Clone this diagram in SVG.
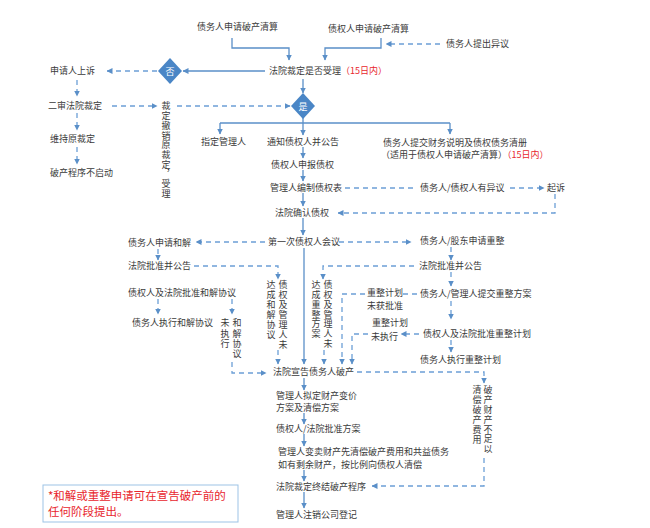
<svg xmlns="http://www.w3.org/2000/svg" width="650" height="528" viewBox="0 0 650 528">
<style>
text{font-family:"Noto Sans CJK SC","Liberation Sans",sans-serif;font-size:9px;fill:#3a3a3a}
.vt{writing-mode:vertical-rl;letter-spacing:1px}
.r{fill:#e8262d}
.s{fill:none;stroke:#5a8fc8;stroke-width:1.3}
.d{fill:none;stroke:#6c9fd6;stroke-width:1.3;stroke-dasharray:5 4}
.dm{fill:#4a86c6}
.dt{fill:#fff;text-anchor:middle;font-size:9px}
.note{fill:#e8262d;font-size:11.5px}
</style>
<defs>
<marker id="a" markerUnits="userSpaceOnUse" markerWidth="6" markerHeight="6" refX="5.5" refY="3" orient="auto"><path d="M0,0 L6,3 L0,6 z" fill="#5a8fc8"/></marker>
</defs>
<rect width="650" height="528" fill="#fff"/>

<g id="connectors">
<path class="s" d="M232,38 V48 H289 V60" marker-end="url(#a)"/>
<path class="s" d="M381,38 V48 H325 V60" marker-end="url(#a)"/>
<path class="d" d="M440,44 H386" marker-end="url(#a)"/>
<path class="s" d="M265,71 H183" marker-end="url(#a)"/>
<path class="d" d="M157,71 H107" marker-end="url(#a)"/>
<path class="d" d="M77,80 V96" marker-end="url(#a)"/>
<path class="d" d="M112,106 H157" marker-end="url(#a)"/>
<path class="d" d="M177,106 H290" marker-end="url(#a)"/>
<path class="d" d="M77,113 V130" marker-end="url(#a)"/>
<path class="d" d="M77,147 V164" marker-end="url(#a)"/>
<path class="s" d="M303,79 V93" marker-end="url(#a)"/>
<path class="s" d="M303,118 V135" marker-end="url(#a)"/>
<path class="s" d="M220,123 H450"/>
<path class="s" d="M220,123 V134" marker-end="url(#a)"/>
<path class="s" d="M450,123 V134" marker-end="url(#a)"/>
<path class="s" d="M303,147 V158" marker-end="url(#a)"/>
<path class="s" d="M303,170 V181" marker-end="url(#a)"/>
<path class="d" d="M345,188 H415"/>
<path class="d" d="M510,188 H544" marker-end="url(#a)"/>
<path class="d" d="M555,194 V213 H338" marker-end="url(#a)"/>
<path class="s" d="M303,193 V206" marker-end="url(#a)"/>
<path class="s" d="M303,218 V235" marker-end="url(#a)"/>
<path class="d" d="M265,242 H196" marker-end="url(#a)"/>
<path class="d" d="M339,242 H411" marker-end="url(#a)"/>
<path class="s" d="M304,248 V364" marker-end="url(#a)"/>
<path class="d" d="M158,249 V260" marker-end="url(#a)"/>
<path class="d" d="M194,266 H278 V279" marker-end="url(#a)"/>
<path class="d" d="M158,299 V314" marker-end="url(#a)"/>
<path class="d" d="M232,299 V314" marker-end="url(#a)"/>
<path class="d" d="M278,350 V364" marker-end="url(#a)"/>
<path class="d" d="M232,362 V373 H266" marker-end="url(#a)"/>
<path class="d" d="M451,247 V260" marker-end="url(#a)"/>
<path class="d" d="M414,266 H323 V279" marker-end="url(#a)"/>
<path class="d" d="M451,272 V286" marker-end="url(#a)"/>
<path class="d" d="M417,294 H402"/>
<path class="d" d="M365,294 H342 V364" marker-end="url(#a)"/>
<path class="d" d="M451,301 V319" marker-end="url(#a)"/>
<path class="d" d="M419,334 H401" marker-end="url(#a)"/>
<path class="d" d="M368,334 H352 V364" marker-end="url(#a)"/>
<path class="d" d="M451,340 V352" marker-end="url(#a)"/>
<path class="d" d="M324,350 V364" marker-end="url(#a)"/>
<path class="d" d="M357,372 H484 V383" marker-end="url(#a)"/>
<path class="d" d="M484,458 V486 H372" marker-end="url(#a)"/>
<path class="s" d="M304,378 V390" marker-end="url(#a)"/>
<path class="s" d="M304,413 V424" marker-end="url(#a)"/>
<path class="s" d="M304,434 V446" marker-end="url(#a)"/>
<path class="s" d="M304,470 V481" marker-end="url(#a)"/>
<path class="s" d="M304,492 V508" marker-end="url(#a)"/>
</g>

<g id="n_debtor_apply"><text x="197" y="30">债务人申请破产清算</text></g>
<g id="n_creditor_apply"><text x="328" y="32">债权人申请破产清算</text></g>
<g id="n_debtor_object"><text x="446" y="47">债务人提出异议</text></g>
<g id="n_court_accept"><text x="269" y="74">法院裁定是否受理<tspan class="r">（15日内）</tspan></text></g>
<g id="n_no"><polygon class="dm" points="170,58 182,71 170,84 158,71"/><text class="dt" x="170" y="74.5">否</text></g>
<g id="n_yes"><polygon class="dm" points="303,93 315,106 303,119 291,106"/><text class="dt" x="303" y="109.5">是</text></g>
<g id="n_appeal"><text x="50" y="74">申请人上诉</text></g>
<g id="n_second"><text x="48" y="109">二审法院裁定</text></g>
<g id="n_maintain"><text x="50" y="142">维持原裁定</text></g>
<g id="n_notstart"><text x="50" y="176">破产程序不启动</text></g>
<g id="n_revoke"><text class="vt" x="166" y="101.5" style="letter-spacing:0.7px">裁定撤销原裁定，受理</text></g>
<g id="n_admin"><text x="201" y="145">指定管理人</text></g>
<g id="n_notify"><text x="267" y="145">通知债权人并公告</text></g>
<g id="n_submit"><text x="383" y="146">债务人提交财务说明及债权债务清册</text><text x="381" y="158">（适用于债权人申请破产清算）<tspan class="r">（15日内）</tspan></text></g>
<g id="n_declare"><text x="271" y="168">债权人申报债权</text></g>
<g id="n_table"><text x="270" y="191">管理人编制债权表</text></g>
<g id="n_dispute"><text x="420" y="191">债务人/债权人有异议</text></g>
<g id="n_sue"><text x="547" y="191">起诉</text></g>
<g id="n_confirm"><text x="275" y="216">法院确认债权</text></g>
<g id="n_meeting"><text x="268" y="245">第一次债权人会议</text></g>
<g id="n_settle_apply"><text x="128" y="246">债务人申请和解</text></g>
<g id="n_settle_court"><text x="128" y="269">法院批准并公告</text></g>
<g id="n_settle_agree"><text x="128" y="296">债权人及法院批准和解协议</text></g>
<g id="n_settle_exec"><text x="132" y="326">债务人执行和解协议</text></g>
<g id="n_settle_noexec"><text class="vt" x="225" y="318.5" style="letter-spacing:1.3px">未执行</text><text class="vt" x="237" y="318.5" style="letter-spacing:1.3px">和解协议</text></g>
<g id="n_settle_fail"><text class="vt" x="271" y="280.5">达成和解协议</text><text class="vt" x="283" y="280.5">债权及管理人未</text></g>
<g id="n_reorg_fail"><text class="vt" x="316" y="280.5" style="letter-spacing:0.7px">达成重整方案</text><text class="vt" x="328" y="280.5" style="letter-spacing:0.7px">债权及管理人未</text></g>
<g id="n_reorg_apply"><text x="420" y="244">债务人/股东申请重整</text></g>
<g id="n_reorg_court"><text x="419" y="269">法院批准并公告</text></g>
<g id="n_reorg_plan"><text x="420" y="297">债务人/管理人提交重整方案</text></g>
<g id="n_reorg_notapproved"><text x="367" y="296">重整计划</text><text x="367" y="309">未获批准</text></g>
<g id="n_reorg_approve"><text x="423" y="337">债权人及法院批准重整计划</text></g>
<g id="n_reorg_notexec"><text x="372" y="326">重整计划</text><text x="371" y="340">未执行</text></g>
<g id="n_reorg_exec"><text x="420" y="363">债务人执行重整计划</text></g>
<g id="n_bankrupt"><text x="273" y="375">法院宣告债务人破产</text></g>
<g id="n_insufficient"><text class="vt" x="477" y="385.5">清偿破产费用</text><text class="vt" x="488" y="385.5" style="letter-spacing:0.8px">破产财产不足以</text></g>
<g id="n_plan"><text x="276" y="399">管理人拟定财产变价</text><text x="276" y="411">方案及清偿方案</text></g>
<g id="n_approve"><text x="276" y="432">债权人/法院批准方案</text></g>
<g id="n_sell"><text x="278" y="455">管理人变卖财产先清偿破产费用和共益债务</text><text x="278" y="468">如有剩余财产，按比例向债权人清偿</text></g>
<g id="n_end"><text x="276" y="490">法院裁定终结破产程序</text></g>
<g id="n_cancel"><text x="276" y="518">管理人注销公司登记</text></g>
<g id="n_note"><rect x="43" y="485" width="195" height="37" fill="#fff" stroke="#9dc3e6" stroke-width="1"/><text class="note" x="48" y="500">*和解或重整申请可在宣告破产前的</text><text class="note" x="48" y="516">任何阶段提出。</text></g>
</svg>
